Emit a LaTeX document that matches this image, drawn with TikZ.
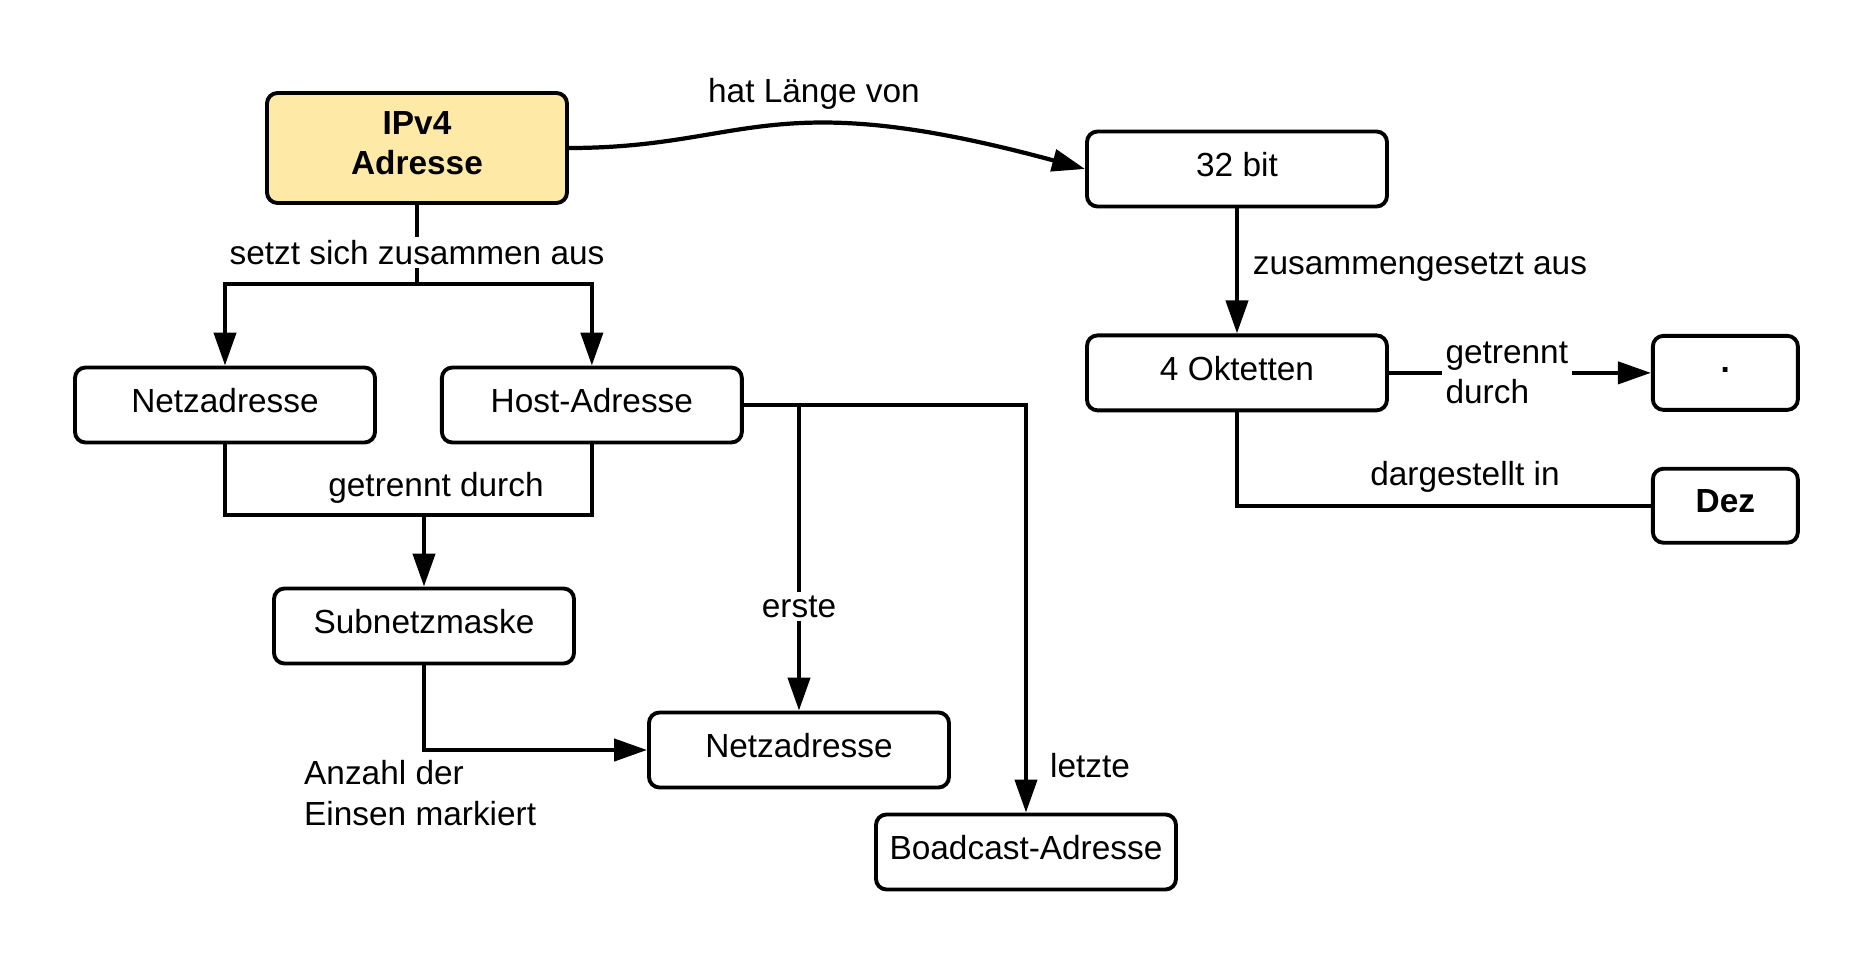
\documentclass[tikz,border=0pt]{standalone}
\usepackage{fontspec}
\setmainfont{Liberation Sans}
\usetikzlibrary{arrows.meta,positioning}
\definecolor{ipyellow}{HTML}{FFE9A6}
\tikzset{
  box/.style={draw=black, fill=white, line width=1.1pt, rounded corners=3pt, align=center, minimum width=30mm, minimum height=7.5mm, inner sep=2pt, text depth=2.8pt},
  keybox/.style={box, fill=ipyellow, minimum height=11mm, font=\bfseries\fontsize{9.5}{11.5}\selectfont},
  smallbox/.style={box, minimum width=14.5mm, minimum height=7.4mm},
  conn/.style={line width=1.2pt, draw=black},
  arrow/.style={conn, -{Triangle[length=3.3mm, width=2.2mm]}},
  lbl/.style={inner sep=1pt, align=left},
  cutlbl/.style={lbl, fill=white}
}

\begin{document}
\begin{tikzpicture}[font=\fontsize{9.5}{11.5}\selectfont]
  \useasboundingbox (0,0) rectangle (18.69,-9.64);

  \node[keybox] (ipv4) at (4.17,-1.48) {IPv4\\Adresse};
  \node[box] (bits) at (12.37,-1.69) {32 bit};
  \node[box, below=1.25 of bits] (oktett) {4 Oktetten};
  \node[smallbox, right=2.62 of oktett, text height=0pt, text depth=0pt] (punkt) {\textbf{.}};
  \node[smallbox, below=0.55 of punkt] (dez) {\textbf{Dez}};

  \node[box] (netz) at (2.25,-4.05) {Netzadresse};
  \node[box, right=0.63 of netz] (host) {Host-Adresse};
  \node[box] (maske) at (4.24,-6.26) {Subnetzmaske};
  \node[box] (netz2) at (7.99,-7.50) {Netzadresse};
  \node[box] (broad) at (10.26,-8.52) {Boadcast-Adresse};

  \coordinate (j1) at (4.17,-2.84);
  \coordinate (j2) at (4.24,-5.15);

  % IPv4 -> Laenge
  \draw[arrow] (ipv4.east) .. controls (7.49,-1.48) and (7.68,-0.83) .. (bits.west);
  \node[lbl] (lLaenge) at (8.14,-0.94) {hat Länge von};

  % Bestandteile
  \draw[conn] (ipv4) -- node[cutlbl, pos=0.6] (lSetzt) {setzt sich zusammen aus} (j1);
  \draw[arrow] (j1) -| (netz);
  \draw[arrow] (j1) -| (host);

  \draw[conn] (netz) |- (j2) -| (host);
  \draw[arrow] (j2) -- (maske);
  \node[lbl] (lTrenn) at (4.36,-4.88) {getrennt durch};

  \draw[arrow] (maske) |- (netz2);
  \node[lbl, anchor=west] (lEinsen) at (3.00,-7.93) {Anzahl der\\Einsen markiert};

  \draw[arrow] (host) -| node[cutlbl, pos=0.83] (lErste) {erste} (netz2);
  \draw[arrow] (host) -| (broad);
  \node[lbl] (lLetzte) at (10.90,-7.66) {letzte};

  % 32 bit
  \draw[arrow] (bits) -- (oktett);
  \node[lbl] (lZusammen) at (14.20,-2.67) {zusammengesetzt aus};
  \draw[arrow] (oktett) -- node[cutlbl, pos=0.45] (lGetrennt) {getrennt\\durch} (punkt);
  \draw[conn] (oktett) |- (dez);
  \node[lbl] (lDarg) at (14.65,-4.77) {dargestellt in};
\end{tikzpicture}
\end{document}
